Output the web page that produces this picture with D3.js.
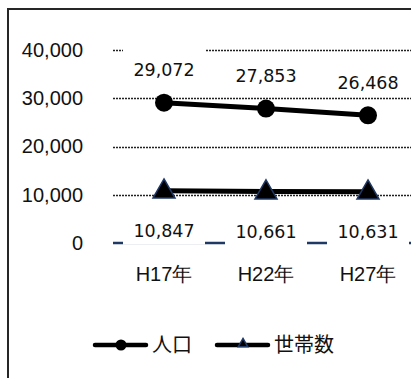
<!DOCTYPE html>
<html>
<head>
<meta charset="utf-8">
<script src="https://cdn.jsdelivr.net/npm/d3@7"></script>
<style>
  html, body { margin: 0; padding: 0; background: #fff; }
  svg { display: block; font-family: 'DejaVu Sans', 'Noto Sans CJK JP', sans-serif; }
</style>
</head>
<body>
<div id="chart"></div>
<script>
const categories = ['H17年', 'H22年', 'H27年']
const population = [29072, 27853, 26468]
const households = [10847, 10661, 10631]
const yTicks = [0, 10000, 20000, 30000, 40000]
const seriesNames = ['人口', '世帯数']

const width = 411
const height = 378
const navy = '#1f3864'

const svg = d3.select('#chart')
  .append('svg')
  .attr('width', width)
  .attr('height', height)

// frame (only top and left edges fall inside the picture)
svg.append('rect')
  .attr('x', 8)
  .attr('y', 9)
  .attr('width', width + 20)
  .attr('height', height + 20)
  .attr('fill', 'none')
  .attr('stroke', '#262626')
  .attr('stroke-width', 2)

const x = d3.scaleBand()
  .domain(categories)
  .range([113, 419])

const y = d3.scaleLinear()
  .domain([0, 40000])
  .range([243, 50])

const cx = d => x(d) + x.bandwidth() / 2
const fmt = d3.format(',')

// gridlines
svg.append('g')
  .selectAll('line')
  .data(yTicks.filter(d => d > 0))
  .join('line')
  .attr('x1', 113)
  .attr('x2', width)
  .attr('y1', d => Math.round(y(d)) + 0.5)
  .attr('y2', d => Math.round(y(d)) + 0.5)
  .attr('stroke', '#222')
  .attr('stroke-width', 1.3)
  .attr('stroke-dasharray', '2,1')

// zero line
svg.append('line')
  .attr('x1', 113)
  .attr('x2', width)
  .attr('y1', y(0))
  .attr('y2', y(0))
  .attr('stroke', navy)
  .attr('stroke-width', 2.5)

// y axis labels
const yAxis = svg.append('g')
  .attr('transform', 'translate(83,0)')
  .call(d3.axisLeft(y).tickValues(yTicks).tickSize(0).tickPadding(0).tickFormat(fmt))
yAxis.select('.domain').remove()
yAxis.selectAll('text')
  .attr('font-size', 20)
  .attr('font-family', null)
  .attr('fill', '#111')

// x axis labels
const xAxis = svg.append('g')
  .attr('transform', 'translate(0,267)')
  .call(d3.axisBottom(x).tickSize(0).tickPadding(0))
xAxis.select('.domain').remove()
xAxis.selectAll('text')
  .attr('font-size', 20)
  .attr('font-family', null)
  .attr('fill', '#111')

// data labels with white boxes
function labels (values, offset) {
  const g = svg.append('g')
  const pts = categories.map((c, i) => ({ c, v: values[i] }))
  g.selectAll('rect')
    .data(pts)
    .join('rect')
    .attr('x', d => cx(d.c) - 41)
    .attr('y', d => y(d.v) + offset - 21)
    .attr('width', 82)
    .attr('height', 35)
    .attr('fill', '#fff')
  g.selectAll('text')
    .data(pts)
    .join('text')
    .attr('x', d => cx(d.c))
    .attr('y', d => y(d.v) + offset)
    .attr('dy', '0.36em')
    .attr('text-anchor', 'middle')
    .attr('font-size', 17.5)
    .attr('fill', '#111')
    .text(d => fmt(d.v))
}
labels(population, -33)
labels(households, 40)

const line = d3.line()
  .x((d, i) => cx(categories[i]))
  .y(d => y(d))

// households series
svg.append('path')
  .datum(households)
  .attr('d', line)
  .attr('fill', 'none')
  .attr('stroke', '#000')
  .attr('stroke-width', 5)

const tri = d3.symbol().type(d3.symbolTriangle).size(210)
svg.append('g')
  .selectAll('path')
  .data(households)
  .join('path')
  .attr('transform', (d, i) => `translate(${cx(categories[i])},${y(d) + 1})`)
  .attr('d', tri)
  .attr('fill', '#000')
  .attr('stroke', navy)
  .attr('stroke-width', 1.5)

// population series
svg.append('path')
  .datum(population)
  .attr('d', line)
  .attr('fill', 'none')
  .attr('stroke', '#000')
  .attr('stroke-width', 5)

svg.append('g')
  .selectAll('circle')
  .data(population)
  .join('circle')
  .attr('cx', (d, i) => cx(categories[i]))
  .attr('cy', d => y(d))
  .attr('r', 9)
  .attr('fill', '#000')

// legend
const legend = svg.append('g').attr('transform', 'translate(0,345)')
const items = [
  { name: seriesNames[0], x0: 93, marker: 'circle' },
  { name: seriesNames[1], x0: 215, marker: 'triangle' }
]
items.forEach(it => {
  legend.append('line')
    .attr('x1', it.x0 + 2)
    .attr('x2', it.x0 + 53)
    .attr('stroke', '#000')
    .attr('stroke-width', 4.5)
    .attr('stroke-linecap', 'round')
  if (it.marker === 'circle') {
    legend.append('circle')
      .attr('cx', it.x0 + 28)
      .attr('r', 5.5)
      .attr('fill', '#000')
  } else {
    legend.append('path')
      .attr('transform', `translate(${it.x0 + 28},-1)`)
      .attr('d', d3.symbol().type(d3.symbolTriangle).size(40))
      .attr('fill', '#000')
      .attr('stroke', navy)
      .attr('stroke-width', 1.5)
  }
  legend.append('text')
    .attr('x', it.x0 + 59)
    .attr('dy', '0.36em')
    .attr('font-size', 20)
    .attr('fill', '#111')
    .text(it.name)
})
</script>
</body>
</html>
